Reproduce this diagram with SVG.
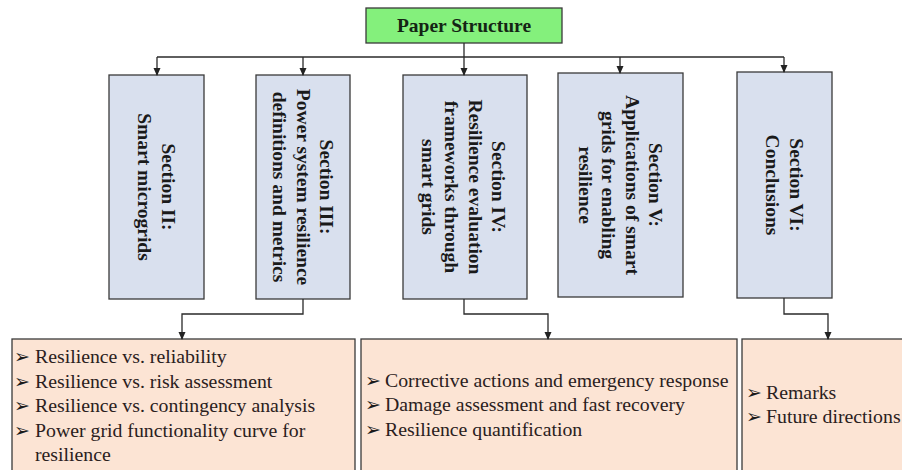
<svg xmlns="http://www.w3.org/2000/svg" width="902" height="470" viewBox="0 0 902 470">
<defs>
<marker id="arr" markerWidth="8" markerHeight="8" refX="7" refY="4" orient="auto" markerUnits="userSpaceOnUse">
<path d="M0,0.5 L8,4 L0,7.5 Z" fill="#222"/>
</marker>
<style>
.sec{fill:#d9e0ee;stroke:#3a3a3a;stroke-width:1.3}
.det{fill:#fce4d4;stroke:#3a3a3a;stroke-width:1.3}
.vt{font-family:"Liberation Serif","Times New Roman",serif;font-size:19.5px;font-weight:bold;fill:#1a1a1a;text-anchor:middle}
.bt{font-family:"Liberation Serif","Times New Roman",serif;font-size:19.8px;fill:#2a2020}
.bul{font-family:"DejaVu Sans",sans-serif;font-size:19px;fill:#1a1a1a}
.con{fill:none;stroke:#2a2a2a;stroke-width:1.3}
</style>
</defs>
<rect width="902" height="470" fill="#ffffff"/>

<g id="paper-structure">
<rect x="366" y="8" width="196" height="35" fill="#84f07c" stroke="#3a3a3a" stroke-width="1.3"/>
<text x="464" y="32" font-family="Liberation Serif,Times New Roman,serif" font-size="19.5" font-weight="bold" fill="#142414" text-anchor="middle">Paper Structure</text>
</g>

<g id="section2">
<rect class="sec" x="109" y="75" width="95" height="224"/>
<text class="vt" transform="translate(156.5,187) rotate(90)"><tspan x="0" y="-5">Section II:</tspan><tspan x="0" y="18.5">Smart microgrids</tspan></text>
</g>

<g id="section3">
<rect class="sec" x="256" y="75" width="94" height="224"/>
<text class="vt" transform="translate(303,187) rotate(90)"><tspan x="0" y="-17">Section III:</tspan><tspan x="0" y="6.5">Power system resilience</tspan><tspan x="0" y="30">definitions and metrics</tspan></text>
</g>

<g id="section4">
<rect class="sec" x="403" y="75" width="124" height="224"/>
<text class="vt" transform="translate(463.5,187) rotate(90)"><tspan x="0" y="-28.75">Section IV:</tspan><tspan x="0" y="-5.25">Resilience evaluation</tspan><tspan x="0" y="18.25">frameworks through</tspan><tspan x="0" y="41.75">smart grids</tspan></text>
</g>

<g id="section5">
<rect class="sec" x="558" y="73" width="125" height="224"/>
<text class="vt" transform="translate(620.5,185) rotate(90)"><tspan x="0" y="-28.75">Section V:</tspan><tspan x="0" y="-5.25">Applications of smart</tspan><tspan x="0" y="18.25">grids for enabling</tspan><tspan x="0" y="41.75">resilience</tspan></text>
</g>

<g id="section6">
<rect class="sec" x="737" y="72" width="95" height="226"/>
<text class="vt" transform="translate(784.5,185) rotate(90)"><tspan x="0" y="-5">Section VI:</tspan><tspan x="0" y="18.5">Conclusions</tspan></text>
</g>

<g id="details3">
<rect class="det" x="12" y="339" width="343" height="140"/>
<text class="bt"><tspan class="bul" x="14" y="363">➢</tspan><tspan x="35" y="363">Resilience vs. reliability</tspan></text>
<text class="bt"><tspan class="bul" x="14" y="388">➢</tspan><tspan x="35" y="388">Resilience vs. risk assessment</tspan></text>
<text class="bt"><tspan class="bul" x="14" y="412">➢</tspan><tspan x="35" y="412">Resilience vs. contingency analysis</tspan></text>
<text class="bt"><tspan class="bul" x="14" y="437">➢</tspan><tspan x="35" y="437">Power grid functionality curve for</tspan></text>
<text class="bt" x="35" y="461">resilience</text>
</g>

<g id="details4">
<rect class="det" x="361" y="339" width="376" height="140"/>
<text class="bt"><tspan class="bul" x="365" y="387">➢</tspan><tspan x="385" y="387">Corrective actions and emergency response</tspan></text>
<text class="bt"><tspan class="bul" x="365" y="411">➢</tspan><tspan x="385" y="411">Damage assessment and fast recovery</tspan></text>
<text class="bt"><tspan class="bul" x="365" y="436">➢</tspan><tspan x="385" y="436">Resilience quantification</tspan></text>
</g>

<g id="details6">
<rect class="det" x="742" y="339" width="170" height="140"/>
<text class="bt"><tspan class="bul" x="746" y="399">➢</tspan><tspan x="766" y="399">Remarks</tspan></text>
<text class="bt"><tspan class="bul" x="746" y="423">➢</tspan><tspan x="766" y="423">Future directions</tspan></text>
</g>

<g id="connectors">
<path class="con" d="M464,43 V57"/>
<path class="con" d="M157,57 H784"/>
<path class="con" d="M157,57 V75" marker-end="url(#arr)"/>
<path class="con" d="M303,57 V75" marker-end="url(#arr)"/>
<path class="con" d="M464,57 V75" marker-end="url(#arr)"/>
<path class="con" d="M620,57 V73" marker-end="url(#arr)"/>
<path class="con" d="M784,57 V72" marker-end="url(#arr)"/>
<path class="con" d="M303,299 V314 H182 V339" marker-end="url(#arr)"/>
<path class="con" d="M464,299 V314 H548 V339" marker-end="url(#arr)"/>
<path class="con" d="M784,298 V314 H828 V339" marker-end="url(#arr)"/>
</g>
</svg>
